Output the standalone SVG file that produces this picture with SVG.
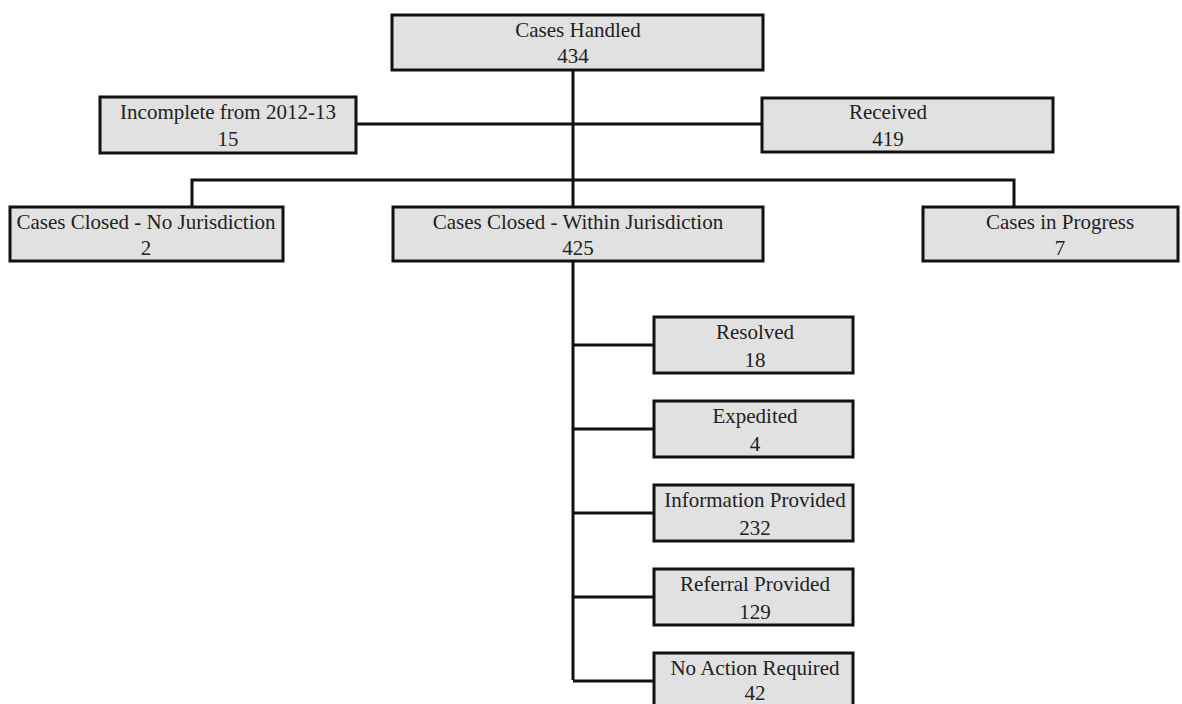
<svg xmlns="http://www.w3.org/2000/svg" width="1182" height="704" viewBox="0 0 1182 704">
<style>
.box{fill:#e1e1e1;stroke:#111;stroke-width:3}
.ln{fill:none;stroke:#111;stroke-width:3}
text{font-family:"Liberation Serif","Times New Roman",serif;font-size:21px;fill:#222;text-anchor:middle}
</style>
<rect width="1182" height="704" fill="#fff"/>
<g id="connectors">
<path class="ln" d="M573 70 V680"/>
<path class="ln" d="M356 124 H762"/>
<path class="ln" d="M192 207 V180 H1014 V207"/>
<path class="ln" d="M573 345 H654 M573 429 H654 M573 513 H654 M573 597 H654 M573 681 H654"/>
</g>
<g id="n_handled"><rect class="box" x="392" y="15" width="371" height="55"/><text x="578" y="37">Cases Handled</text><text x="573" y="63">434</text></g>
<g id="n_incomplete"><rect class="box" x="100" y="97" width="256" height="56"/><text x="228" y="119">Incomplete from 2012-13</text><text x="228" y="146">15</text></g>
<g id="n_received"><rect class="box" x="762" y="98" width="291" height="54"/><text x="888" y="119">Received</text><text x="888" y="146">419</text></g>
<g id="n_nojur"><rect class="box" x="10" y="207" width="273" height="54"/><text x="146" y="229">Cases Closed - No Jurisdiction</text><text x="146" y="255">2</text></g>
<g id="n_within"><rect class="box" x="393" y="207" width="370" height="54"/><text x="578" y="229">Cases Closed - Within Jurisdiction</text><text x="578" y="255">425</text></g>
<g id="n_progress"><rect class="box" x="923" y="207" width="255" height="54"/><text x="1060" y="229">Cases in Progress</text><text x="1060" y="255">7</text></g>
<g id="n_resolved"><rect class="box" x="654" y="317" width="199" height="56"/><text x="755" y="339">Resolved</text><text x="755" y="367">18</text></g>
<g id="n_expedited"><rect class="box" x="654" y="401" width="199" height="56"/><text x="755" y="423">Expedited</text><text x="755" y="451">4</text></g>
<g id="n_info"><rect class="box" x="654" y="485" width="199" height="56"/><text x="755" y="507">Information Provided</text><text x="755" y="535">232</text></g>
<g id="n_referral"><rect class="box" x="654" y="569" width="199" height="56"/><text x="755" y="591">Referral Provided</text><text x="755" y="619">129</text></g>
<g id="n_noaction"><rect class="box" x="654" y="653" width="199" height="56"/><text x="755" y="675">No Action Required</text><text x="755" y="700">42</text></g>
</svg>
